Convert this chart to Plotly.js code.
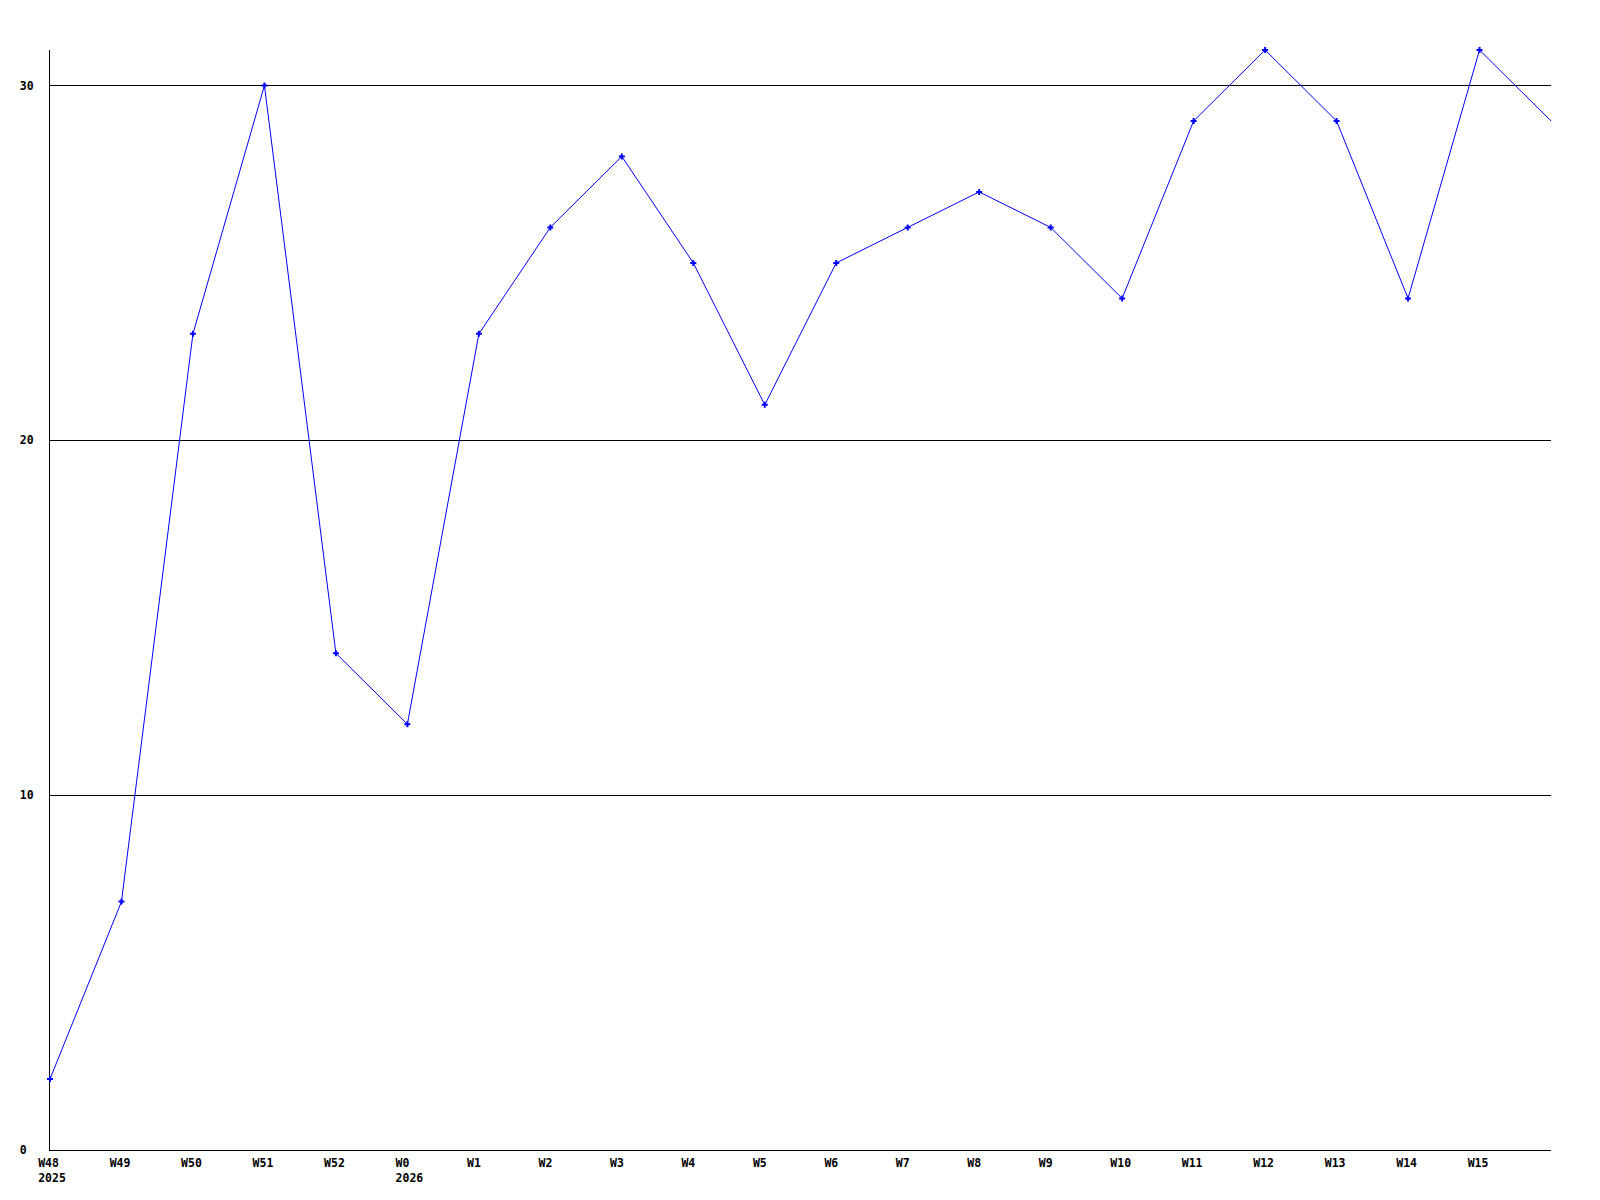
<!DOCTYPE html>
<html>
<head>
<meta charset="utf-8">
<script src="https://cdn.plot.ly/plotly-3.0.1.min.js"></script>
<style>html,body{margin:0;padding:0;background:#fff;}</style>
</head>
<body>
<div id="chart" style="width:1600px;height:1200px;"></div>
<script>
const weeks = ["W48","W49","W50","W51","W52","W0","W1","W2","W3","W4","W5","W6","W7","W8","W9","W10","W11","W12","W13","W14","W15","W16"];
const years = ["2025","","","","","2026","","","","","","","","","","","","","","","",""];
const values = [2,7,23,30,14,12,23,26,28,25,21,25,26,27,26,24,29,31,29,24,31,29];
const yTicks = [0,10,20,30];

const NB = "\u00A0";
function pad(s, n) { while (s.length < n) s += NB; return s; }

const xIdx = weeks.map((_, i) => i);
const labelCount = weeks.length - 1;
const tickvals = xIdx.slice(0, labelCount);
const ticktext = tickvals.map(i => years[i] ? pad(weeks[i], 4) + "<br>" + years[i] : pad(weeks[i], 4));
const markerColors = xIdx.map(i => i < labelCount ? "#0000ff" : "rgba(0,0,255,0)");

const trace = {
  x: xIdx,
  y: values,
  type: "scatter",
  mode: "lines+markers",
  line: {color: "#0000ff", width: 1},
  marker: {color: markerColors, symbol: "cross", size: 5, line: {width: 0}},
  cliponaxis: false,
  hoverinfo: "none"
};

const font = {family: "DejaVu Sans Mono, monospace", size: 11.5, color: "#000", weight: "bold"};

const layout = {
  width: 1600,
  height: 1200,
  margin: {l: 50, r: 49, t: 50, b: 50, pad: 0},
  paper_bgcolor: "#fff",
  plot_bgcolor: "#fff",
  showlegend: false,
  font: font,
  xaxis: {
    range: [0, weeks.length - 1],
    tickvals: tickvals,
    ticktext: ticktext,
    ticks: "",
    showgrid: false,
    zeroline: false,
    showline: true,
    linecolor: "#000",
    linewidth: 1,
    layer: "below traces",
    tickfont: font,
    ticklabelstandoff: 2,
    ticklabelshift: 2,
    fixedrange: true
  },
  yaxis: {
    range: [0, 31],
    tickvals: yTicks,
    ticktext: yTicks.map(v => pad(String(v), 2)),
    ticks: "",
    showgrid: true,
    gridcolor: "#000",
    gridwidth: 1,
    zeroline: false,
    showline: true,
    linecolor: "#000",
    linewidth: 1,
    layer: "below traces",
    tickfont: font,
    ticklabelstandoff: 13,
    fixedrange: true
  }
};

Plotly.newPlot("chart", [trace], layout, {displayModeBar: false, staticPlot: true});
</script>
</body>
</html>
